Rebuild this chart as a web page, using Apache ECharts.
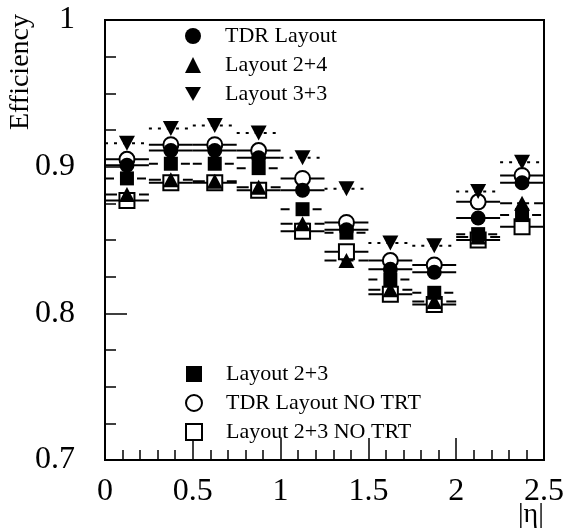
<!DOCTYPE html>
<html>
<head>
<meta charset="utf-8">
<script src="https://cdn.jsdelivr.net/npm/echarts@6/dist/echarts.min.js"></script>
<style>
  html, body { margin: 0; padding: 0; background: #fff; }
  #main { width: 567px; height: 532px; }
</style>
</head>
<body>
<div id="main"></div>
<script>
// |eta| bin centres, bins are 0.25 wide
var etaCenters = [0.125, 0.375, 0.625, 0.875, 1.125, 1.375, 1.625, 1.875, 2.125, 2.375];
var etaHalfWidth = 0.125;

// efficiency per layout
var effTDR        = [0.901, 0.911, 0.911, 0.906, 0.884, 0.857, 0.830, 0.828, 0.865, 0.889];
var eff24         = [0.881, 0.891, 0.890, 0.886, 0.861, 0.836, 0.816, 0.808, 0.852, 0.875];
var eff33         = [0.916, 0.926, 0.928, 0.923, 0.906, 0.885, 0.848, 0.846, 0.883, 0.903];
var eff23         = [0.892, 0.902, 0.902, 0.899, 0.871, 0.855, 0.823, 0.814, 0.854, 0.867];
var effTDRnoTRT   = [0.905, 0.915, 0.915, 0.911, 0.892, 0.862, 0.836, 0.833, 0.876, 0.894];
var eff23noTRT    = [0.877, 0.889, 0.889, 0.884, 0.856, 0.842, 0.813, 0.806, 0.850, 0.859];

var serif = '"Liberation Serif", "Times New Roman", serif';
var downTri = 'path://M0,0L20,0L10,17.3Z';

var chart = echarts.init(document.getElementById('main'));

function pairs(ys) {
  return etaCenters.map(function (x, i) { return [x, ys[i]]; });
}

// horizontal bars showing the bin width
function binBars(ys, dash) {
  return {
    type: 'custom',
    z: 1,
    silent: true,
    encode: { x: 0, y: 1 },
    data: pairs(ys),
    renderItem: function (params, api) {
      var y = api.value(1), x = api.value(0);
      var a = api.coord([x - etaHalfWidth, y]);
      var b = api.coord([x + etaHalfWidth, y]);
      return {
        type: 'line',
        shape: { x1: a[0], y1: a[1], x2: b[0], y2: b[1] },
        style: { stroke: '#000', lineWidth: 2, lineDash: dash }
      };
    }
  };
}

function marks(name, ys, symbol, size, open) {
  return {
    name: name,
    type: 'scatter',
    z: 3,
    data: pairs(ys),
    symbol: symbol,
    symbolSize: size,
    itemStyle: open
      ? { color: '#fff', borderColor: '#000', borderWidth: 2, opacity: 1 }
      : { color: '#000', opacity: 1 }
  };
}

var option = {
  animation: false,
  backgroundColor: '#fff',
  grid: {
    left: 105, top: 20, width: 440, height: 440,
    show: true, borderColor: '#000', borderWidth: 2, backgroundColor: 'transparent'
  },
  xAxis: {
    type: 'value', min: 0, max: 2.5, interval: 0.5,
    splitLine: { show: false },
    axisLine: { lineStyle: { color: '#000', width: 2 } },
    axisTick: { inside: true, length: 22, lineStyle: { color: '#000', width: 1.5 } },
    minorTick: { show: true, splitNumber: 5, length: 10, lineStyle: { color: '#000', width: 1.5 } },
    axisLabel: { color: '#000', fontFamily: serif, fontSize: 32, margin: 16 }
  },
  yAxis: {
    type: 'value', min: 0.7, max: 1, interval: 0.1,
    splitLine: { show: false },
    axisLine: { lineStyle: { color: '#000', width: 2 } },
    axisTick: { inside: true, length: 22, lineStyle: { color: '#000', width: 1.5 } },
    minorTick: { show: true, splitNumber: 4, length: 11, lineStyle: { color: '#000', width: 1.5 } },
    axisLabel: { color: '#000', fontFamily: serif, fontSize: 32, margin: 30 }
  },
  legend: [
    {
      orient: 'vertical', left: 185, top: 25, padding: 0,
      itemWidth: 16, itemHeight: 16, itemGap: 7, selectedMode: false,
      data: ['TDR Layout', 'Layout 2+4', 'Layout 3+3'],
      textStyle: { fontFamily: serif, fontSize: 22, color: '#000', lineHeight: 22, padding: [0, 0, 0, 19] }
    },
    {
      orient: 'vertical', left: 185, top: 363, padding: 0,
      itemWidth: 16, itemHeight: 16, itemGap: 7, selectedMode: false,
      data: ['Layout 2+3', 'TDR Layout NO TRT', 'Layout 2+3 NO TRT'],
      textStyle: { fontFamily: serif, fontSize: 22, color: '#000', lineHeight: 22, padding: [0, 0, 0, 19] }
    }
  ],
  graphic: [
    {
      type: 'text', left: 7, top: 14, rotation: Math.PI / 2,
      style: { text: 'Efficiency', fontFamily: serif, fontSize: 28, fill: '#000' }
    },
    {
      type: 'text', left: 518, top: 501,
      style: { text: '|η|', fontFamily: serif, fontSize: 28, fill: '#000' }
    }
  ],
  series: [
    binBars(effTDRnoTRT, null),
    binBars(eff23noTRT, null),
    binBars(eff23, [9, 7]),
    binBars(effTDR, null),
    binBars(eff24, [12, 5]),
    binBars(eff33, [3, 6]),
    marks('TDR Layout NO TRT', effTDRnoTRT, 'circle', 15, true),
    marks('Layout 2+3 NO TRT', eff23noTRT, 'rect', 15, true),
    marks('Layout 2+3', eff23, 'rect', 14, false),
    marks('TDR Layout', effTDR, 'circle', 15, false),
    marks('Layout 2+4', eff24, 'triangle', [16, 15], false),
    marks('Layout 3+3', eff33, downTri, [16, 15], false)
  ]
};

chart.setOption(option);
</script>
</body>
</html>
